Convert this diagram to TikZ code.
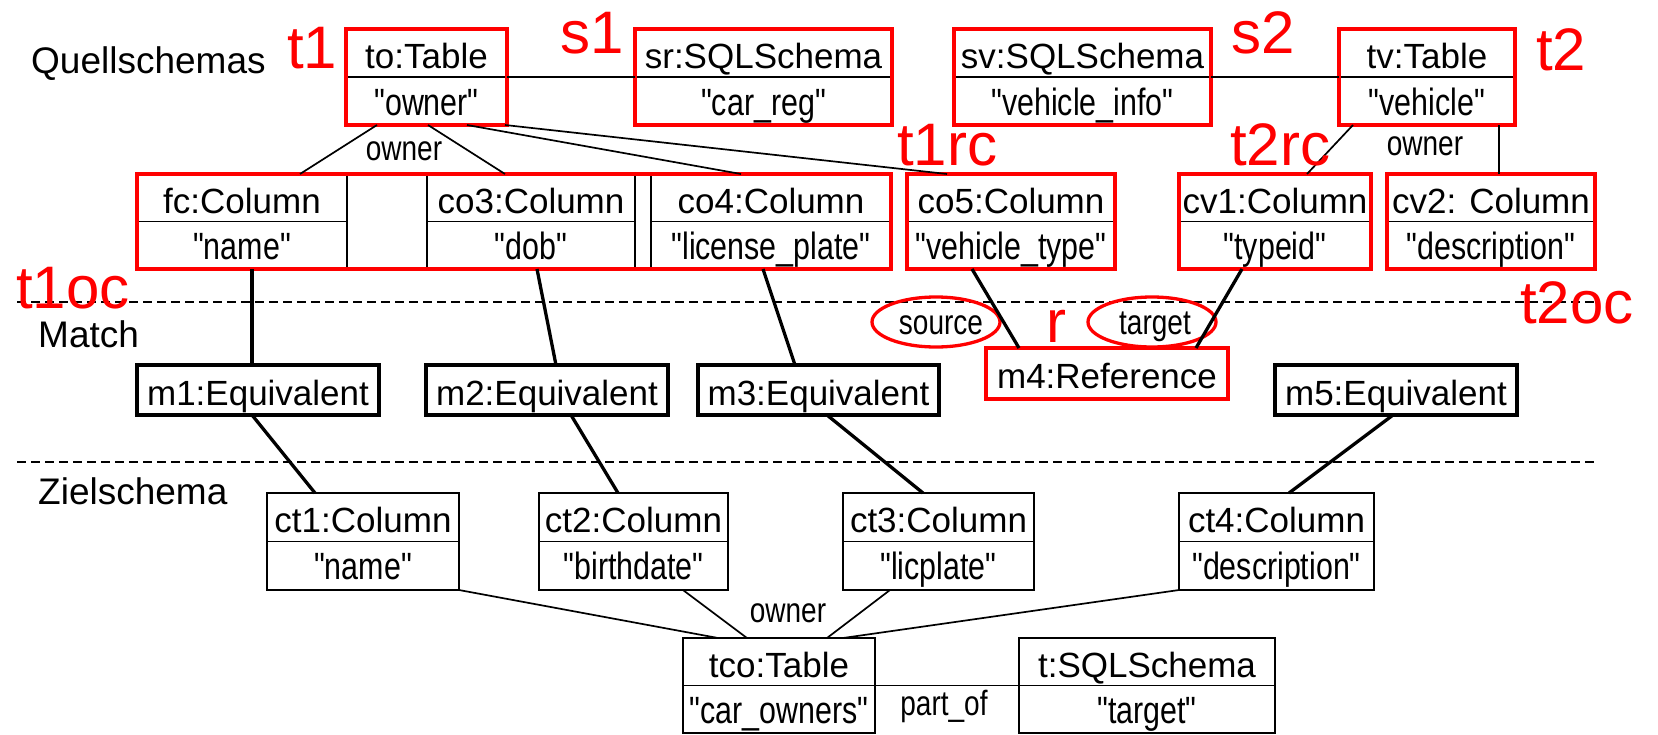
\documentclass[tikz,border=0pt]{standalone}
\usepackage{fontspec}
\setmainfont{Liberation Sans}
\newfontfamily\attrfont[FakeStretch=0.8]{Liberation Sans}
\usetikzlibrary{shapes.geometric}
\tikzset{
  thinln/.style={line width=1.7pt},
  thickln/.style={line width=3.3pt},
  obox/.style={draw, rectangle, line width=1.7pt, inner sep=0pt, outer sep=0pt},
  hbox/.style={draw=red, line width=3.3pt},
  mbox/.style={draw, rectangle, line width=3.3pt, inner sep=0pt, outer sep=0pt},
  rbox/.style={draw=red, rectangle, line width=3.3pt, inner sep=0pt, outer sep=0pt},
  title/.style={font=\fontsize{35}{40}\selectfont, anchor=base, inner sep=0pt},
  attr/.style={font=\attrfont\fontsize{38}{42}\selectfont, anchor=base, inner sep=0pt},
  lbl/.style={font=\attrfont\fontsize{35}{40}\selectfont, anchor=base, inner sep=0pt},
  redlbl/.style={font=\fontsize{60}{64}\selectfont, text=red, anchor=base west, inner sep=0pt},
  section/.style={font=\fontsize{37}{40}\selectfont, anchor=base west, inner sep=0pt},
  sep/.style={line width=1.5pt, dash pattern=on 9pt off 5pt},
  redell/.style={draw=red, ellipse, line width=3.3pt, minimum width=128pt, minimum height=50pt, inner sep=0pt}
}
% #1 options, #2 name, #3 x1, #4 y1, #5 x2, #6 y2, #7 title, #8 attribute
\newcommand{\umlbox}[8][]{%
  \draw[thinln] (#3,{(#4+#6)/2}) -- (#5,{(#4+#6)/2});
  \node[obox,#1,minimum width={#5-#3},minimum height={#6-#4}] (#2) at ({(#3+#5)/2},{(#4+#6)/2}) {};
  \node[title] (#2t) at ({(#3+#5)/2},{#4+39.5}) {#7};
  \node[attr] (#2a) at ({(#3+#5)/2},{(#4+#6)/2+38}) {#8};
}
% #1 options, #2 name, #3 x1, #4 y1, #5 x2, #6 y2, #7 text
\newcommand{\matchbox}[7][]{%
  \node[mbox,#1,minimum width={#5-#3},minimum height={#6-#4}] (#2) at ({(#3+#5)/2},{(#4+#6)/2}) {};
  \node[title] (#2t) at ({(#3+#5)/2},{#4+40}) {#7};
}
\begin{document}
\begin{tikzpicture}[x=1pt,y=-1pt]
\useasboundingbox (0,0) rectangle (1658,734);

% section labels and separators
\node[section] (qs) at (31,73) {Quellschemas};
\node[section] (ma) at (38,347) {Match};
\node[section] (zs) at (38,504) {Zielschema};
\draw[sep] (17,302) -- (1597,302);
\draw[sep] (17,462) -- (1597,462);

% source schemas
\umlbox[hbox]{tto}{346}{29}{507}{125}{to:Table}{"owner"}
\umlbox[hbox]{sr}{635}{29}{892}{125}{sr:SQLSchema}{"car\_reg"}
\umlbox[hbox]{sv}{954}{29}{1211}{125}{sv:SQLSchema}{"vehicle\_info"}
\umlbox[hbox]{tv}{1339}{29}{1515}{125}{tv:Table}{"vehicle"}

\umlbox{fc}{137}{174}{347}{269}{fc:Column}{"name"}
\umlbox{co3}{427}{174}{635}{269}{co3:Column}{"dob"}
\umlbox{co4}{651}{174}{891}{269}{co4:Column}{"license\_plate"}
\node[rbox, minimum width=754pt, minimum height=95pt] (t1grp) at (514,221.5) {};
\umlbox[hbox]{co5}{907}{174}{1115}{269}{co5:Column}{"vehicle\_type"}
\umlbox[hbox]{cv1}{1179}{174}{1371}{269}{cv1:Column}{"typeid"}
\umlbox[hbox]{cv2}{1387}{174}{1595}{269}{cv2: Column}{"description"}

% match
\matchbox{m1}{137}{365}{379}{415}{m1:Equivalent}
\matchbox{m2}{426}{365}{668}{415}{m2:Equivalent}
\matchbox{m3}{698}{365}{939}{415}{m3:Equivalent}
\matchbox[draw=red]{m4}{986}{348}{1228}{399}{m4:Reference}
\matchbox{m5}{1275}{365}{1517}{415}{m5:Equivalent}
\node[redell] (src) at (936,322) {};
\node[lbl] (srct) at (941,334) {source};
\node[redell] (tgt) at (1152,322) {};
\node[lbl] (tgtt) at (1155,334) {target};

% target schema
\umlbox{ct1}{267}{493}{459}{590}{ct1:Column}{"name"}
\umlbox{ct2}{539}{493}{728}{590}{ct2:Column}{"birthdate"}
\umlbox{ct3}{843}{493}{1034}{590}{ct3:Column}{"licplate"}
\umlbox{ct4}{1179}{493}{1374}{590}{ct4:Column}{"description"}
\umlbox{tco}{683}{638}{875}{733}{tco:Table}{"car\_owners"}
\umlbox{tsql}{1019}{638}{1275}{733}{t:SQLSchema}{"target"}

% thin connectors (source side)
\draw[thinln] ([xshift=31pt]tto.south west) -- ([xshift=163pt]fc.north west);
\draw[thinln] ([xshift=82pt]tto.south west) -- ([xshift=78pt]co3.north west);
\draw[thinln] ([xshift=121pt]tto.south west) -- ([xshift=90pt]co4.north west);
\draw[thinln] ([xshift=-2pt]tto.south east) -- ([xshift=40pt]co5.north west);
\draw[thinln] (tto.east) -- (sr.west);
\draw[thinln] (sv.east) -- (tv.west);
\draw[thinln] ([xshift=14pt]tv.south west) -- ([xshift=128pt]cv1.north west);
\draw[thinln] ([xshift=160pt]tv.south west) -- ([xshift=112pt]cv2.north west);
\node[lbl] (own1) at (404,160) {owner};
\node[lbl] (own2) at (1425,155) {owner};

% thick match connectors
\draw[thickln] ([xshift=115pt]fc.south west) -- ([xshift=115pt]m1.north west);
\draw[thickln] ([xshift=110pt]co3.south west) -- ([xshift=130pt]m2.north west);
\draw[thickln] ([xshift=112pt]co4.south west) -- ([xshift=97pt]m3.north west);
\draw[thickln] ([xshift=65pt]co5.south west) -- ([xshift=33pt]m4.north west);
\draw[thickln] ([xshift=63pt]cv1.south west) -- ([xshift=210pt]m4.north west);
\draw[thickln] ([xshift=115pt]m1.south west) -- ([xshift=48pt]ct1.north west);
\draw[thickln] ([xshift=145pt]m2.south west) -- ([xshift=79pt]ct2.north west);
\draw[thickln] ([xshift=129pt]m3.south west) -- ([xshift=80pt]ct3.north west);
\draw[thickln] ([xshift=118pt]m5.south west) -- ([xshift=110pt]ct4.north west);

% thin connectors (target side)
\draw[thinln] (ct1.south east) -- ([xshift=35pt]tco.north west);
\draw[thinln] ([xshift=144pt]ct2.south west) -- ([xshift=64pt]tco.north west);
\draw[thinln] ([xshift=47pt]ct3.south west) -- ([xshift=144pt]tco.north west);
\draw[thinln] (ct4.south west) -- ([xshift=160pt]tco.north west);
\draw[thinln] (tco.east) -- (tsql.west);
\node[lbl] (own3) at (788,622) {owner};
\node[lbl] (partof) at (944,715) {part\_of};

% red annotations
\node[redlbl] (lt1) at (287,68) {t1};
\node[redlbl] (ls1) at (560,53) {s1};
\node[redlbl] (ls2) at (1231,53) {s2};
\node[redlbl] (lt2) at (1536,70) {t2};
\node[redlbl] (lt1rc) at (897,165) {t1rc};
\node[redlbl] (lt2rc) at (1230,165) {t2rc};
\node[redlbl] (lt1oc) at (16,308) {t1oc};
\node[redlbl] (lt2oc) at (1520,323) {t2oc};
\node[redlbl] (lr) at (1046,342) {r};
\end{tikzpicture}
\end{document}
